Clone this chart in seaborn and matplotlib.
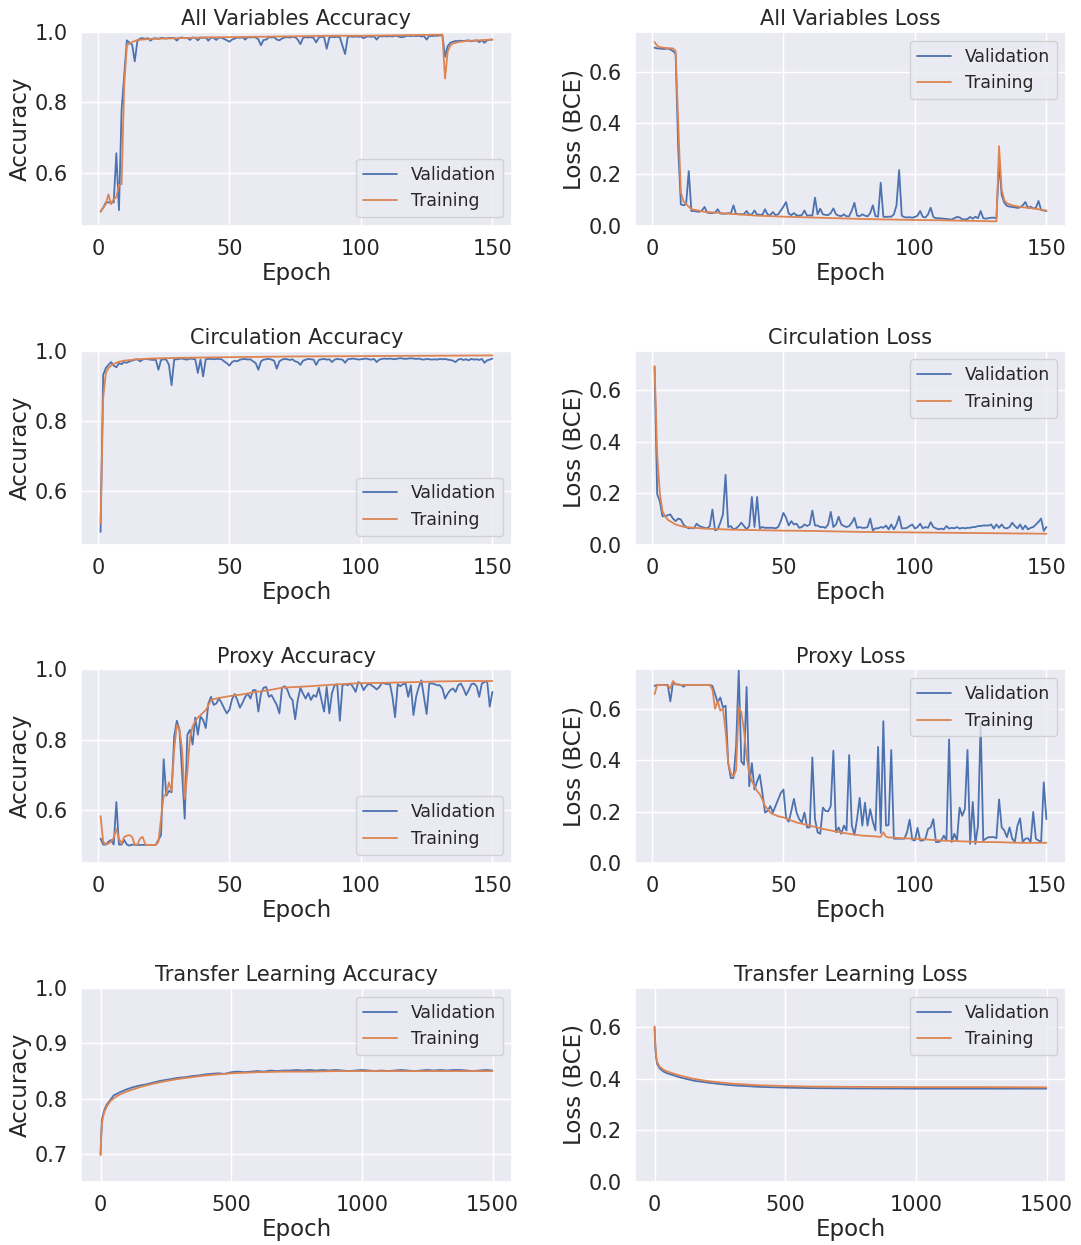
import numpy as np
import pandas as pd
import matplotlib
matplotlib.use("Agg")
import matplotlib.pyplot as plt
import seaborn as sns

# ---------------- data ----------------
EPOCHS = list(range(1, 151))

# All Variables
AV_ACC_VAL = [
    0.489, 0.500, 0.515, 0.515, 0.515, 0.515, 0.655, 0.493, 0.779, 0.880,
    0.977, 0.970, 0.965, 0.917, 0.975, 0.982, 0.983, 0.981, 0.983, 0.976,
    0.982, 0.983, 0.981, 0.984, 0.983, 0.982, 0.984, 0.983, 0.984, 0.976,
    0.984, 0.985, 0.983, 0.984, 0.978, 0.985, 0.984, 0.977, 0.985, 0.984,
    0.985, 0.976, 0.985, 0.984, 0.978, 0.985, 0.984, 0.981, 0.977, 0.973,
    0.979, 0.982, 0.985, 0.984, 0.986, 0.979, 0.986, 0.985, 0.986, 0.985,
    0.980, 0.963, 0.978, 0.979, 0.986, 0.985, 0.986, 0.979, 0.977, 0.982,
    0.985, 0.986, 0.985, 0.987, 0.986, 0.979, 0.966, 0.984, 0.986, 0.985,
    0.986, 0.984, 0.971, 0.985, 0.987, 0.986, 0.953, 0.985, 0.987, 0.986,
    0.987, 0.986, 0.961, 0.938, 0.987, 0.988, 0.987, 0.988, 0.987, 0.988,
    0.983, 0.987, 0.988, 0.987, 0.988, 0.979, 0.989, 0.988, 0.989, 0.988,
    0.989, 0.988, 0.990, 0.989, 0.986, 0.986, 0.989, 0.990, 0.989, 0.990,
    0.989, 0.990, 0.988, 0.989, 0.979, 0.990, 0.989, 0.990, 0.990, 0.991,
    0.991, 0.930, 0.960, 0.970, 0.973, 0.975, 0.975, 0.976, 0.975, 0.976,
    0.977, 0.974, 0.976, 0.977, 0.972, 0.977, 0.970, 0.977, 0.979, 0.979,
]
AV_ACC_TR_EP = [1, 2, 3, 4, 5, 6, 7, 8, 9, 10, 11, 12, 13, 15, 20, 30, 40, 50, 60, 70, 80,
                90, 100, 110, 120, 130, 131, 132, 133, 134, 135, 137, 140, 145, 150]
AV_ACC_TR = [0.489, 0.500, 0.510, 0.538, 0.510, 0.525, 0.530, 0.565, 0.567, 0.850,
             0.962, 0.968, 0.972, 0.978, 0.981, 0.983, 0.985, 0.986, 0.987, 0.988,
             0.989, 0.990, 0.990, 0.991, 0.992, 0.993, 0.993, 0.868, 0.945, 0.962,
             0.968, 0.972, 0.975, 0.977, 0.979]

AV_LOSS_VAL = [
    0.693, 0.690, 0.690, 0.688, 0.688, 0.690, 0.686, 0.680, 0.670, 0.300,
    0.084, 0.080, 0.085, 0.213, 0.058, 0.058, 0.056, 0.055, 0.060, 0.074,
    0.052, 0.050, 0.050, 0.052, 0.065, 0.048, 0.048, 0.047, 0.050, 0.048,
    0.080, 0.046, 0.046, 0.045, 0.046, 0.058, 0.044, 0.045, 0.060, 0.044,
    0.044, 0.043, 0.065, 0.044, 0.043, 0.054, 0.042, 0.045, 0.060, 0.075,
    0.093, 0.048, 0.042, 0.050, 0.041, 0.040, 0.042, 0.060, 0.040, 0.041,
    0.040, 0.110, 0.045, 0.067, 0.045, 0.043, 0.042, 0.050, 0.068, 0.045,
    0.040, 0.038, 0.045, 0.037, 0.038, 0.060, 0.090, 0.040, 0.038, 0.045,
    0.040, 0.037, 0.050, 0.080, 0.038, 0.036, 0.168, 0.036, 0.035, 0.036,
    0.036, 0.045, 0.080, 0.217, 0.040, 0.034, 0.033, 0.034, 0.032, 0.035,
    0.040, 0.058, 0.035, 0.033, 0.045, 0.071, 0.035, 0.030, 0.030, 0.029,
    0.028, 0.027, 0.026, 0.025, 0.030, 0.035, 0.033, 0.026, 0.025, 0.027,
    0.035, 0.028, 0.036, 0.030, 0.058, 0.030, 0.028, 0.030, 0.032, 0.032,
    0.030, 0.250, 0.120, 0.090, 0.078, 0.075, 0.074, 0.072, 0.070, 0.072,
    0.080, 0.093, 0.070, 0.075, 0.068, 0.070, 0.097, 0.062, 0.060, 0.058,
]
AV_LOSS_TR_EP = [1, 2, 3, 5, 8, 9, 10, 11, 12, 13, 15, 20, 30, 40, 50, 60, 70, 80, 90, 100,
                 110, 120, 130, 131, 132, 133, 134, 135, 137, 140, 145, 150]
AV_LOSS_TR = [0.715, 0.700, 0.695, 0.692, 0.690, 0.680, 0.400, 0.130, 0.095, 0.085,
              0.065, 0.055, 0.047, 0.040, 0.036, 0.033, 0.030, 0.027, 0.025, 0.023,
              0.022, 0.020, 0.018, 0.018, 0.310, 0.140, 0.100, 0.088, 0.080, 0.074,
              0.068, 0.060]

# Circulation
CI_ACC_VAL = [
    0.484, 0.932, 0.951, 0.960, 0.968, 0.958, 0.953, 0.965, 0.962, 0.968,
    0.966, 0.970, 0.972, 0.975, 0.976, 0.970, 0.975, 0.977, 0.976, 0.975,
    0.974, 0.975, 0.946, 0.974, 0.976, 0.975, 0.960, 0.902, 0.975, 0.976,
    0.977, 0.978, 0.976, 0.975, 0.978, 0.977, 0.976, 0.937, 0.975, 0.927,
    0.976, 0.977, 0.977, 0.976, 0.977, 0.977, 0.976, 0.970, 0.965, 0.958,
    0.968, 0.972, 0.970, 0.975, 0.976, 0.977, 0.975, 0.976, 0.970, 0.965,
    0.946, 0.970, 0.975, 0.976, 0.977, 0.975, 0.972, 0.949, 0.970, 0.975,
    0.977, 0.976, 0.974, 0.976, 0.970, 0.968, 0.960, 0.972, 0.975, 0.977,
    0.976, 0.975, 0.960, 0.974, 0.976, 0.977, 0.975, 0.976, 0.968, 0.975,
    0.977, 0.976, 0.975, 0.966, 0.976, 0.977, 0.978, 0.977, 0.975, 0.976,
    0.977, 0.978, 0.976, 0.975, 0.977, 0.968, 0.975, 0.977, 0.978, 0.977,
    0.978, 0.977, 0.976, 0.978, 0.979, 0.978, 0.977, 0.978, 0.979, 0.978,
    0.977, 0.978, 0.976, 0.975, 0.977, 0.976, 0.975, 0.976, 0.975, 0.977,
    0.976, 0.977, 0.975, 0.974, 0.972, 0.968, 0.975, 0.977, 0.974, 0.976,
    0.973, 0.977, 0.975, 0.976, 0.974, 0.977, 0.966, 0.973, 0.975, 0.978,
]
CI_ACC_TR_EP = [1, 2, 3, 4, 5, 6, 7, 8, 10, 15, 20, 30, 50, 75, 100, 125, 150]
CI_ACC_TR = [0.508, 0.866, 0.937, 0.951, 0.958, 0.962, 0.966, 0.969, 0.972, 0.976,
             0.978, 0.980, 0.982, 0.984, 0.985, 0.986, 0.987]

CI_LOSS_VAL = [
    0.690, 0.196, 0.168, 0.110, 0.110, 0.114, 0.117, 0.101, 0.091, 0.101,
    0.097, 0.078, 0.068, 0.063, 0.065, 0.063, 0.081, 0.072, 0.068, 0.065,
    0.063, 0.072, 0.136, 0.055, 0.059, 0.085, 0.117, 0.271, 0.068, 0.072,
    0.059, 0.063, 0.072, 0.085, 0.072, 0.059, 0.072, 0.185, 0.068, 0.185,
    0.063, 0.068, 0.065, 0.065, 0.065, 0.065, 0.063, 0.068, 0.091, 0.123,
    0.104, 0.074, 0.091, 0.078, 0.081, 0.065, 0.068, 0.078, 0.072, 0.078,
    0.132, 0.074, 0.074, 0.068, 0.068, 0.065, 0.078, 0.127, 0.068, 0.078,
    0.108, 0.078, 0.072, 0.068, 0.072, 0.085, 0.104, 0.065, 0.068, 0.065,
    0.065, 0.068, 0.101, 0.055, 0.063, 0.063, 0.068, 0.065, 0.074, 0.059,
    0.078, 0.059, 0.078, 0.110, 0.063, 0.063, 0.065, 0.072, 0.078, 0.062,
    0.068, 0.081, 0.063, 0.068, 0.065, 0.087, 0.068, 0.063, 0.059, 0.062,
    0.059, 0.072, 0.062, 0.065, 0.063, 0.068, 0.062, 0.065, 0.063, 0.065,
    0.065, 0.068, 0.068, 0.072, 0.072, 0.074, 0.074, 0.074, 0.078, 0.062,
    0.078, 0.065, 0.078, 0.065, 0.063, 0.068, 0.085, 0.072, 0.063, 0.078,
    0.059, 0.074, 0.059, 0.065, 0.068, 0.078, 0.088, 0.101, 0.053, 0.068,
]
CI_LOSS_TR_EP = [1, 2, 3, 4, 5, 6, 7, 8, 9, 10, 12, 15, 20, 30, 40, 50, 60, 70, 80, 90,
                 100, 110, 120, 130, 140, 150]
CI_LOSS_TR = [0.694, 0.350, 0.200, 0.130, 0.110, 0.097, 0.090, 0.084, 0.078, 0.075,
              0.069, 0.066, 0.062, 0.058, 0.056, 0.054, 0.053, 0.051, 0.049, 0.048,
              0.047, 0.046, 0.045, 0.044, 0.043, 0.042]

# Proxy
PR_ACC_VAL = [
    0.518, 0.501, 0.501, 0.509, 0.514, 0.501, 0.622, 0.501, 0.501, 0.514,
    0.501, 0.498, 0.501, 0.500, 0.500, 0.500, 0.500, 0.500, 0.500, 0.500,
    0.500, 0.500, 0.514, 0.528, 0.744, 0.640, 0.654, 0.650, 0.809, 0.854,
    0.828, 0.706, 0.575, 0.814, 0.828, 0.786, 0.863, 0.814, 0.866, 0.856,
    0.833, 0.903, 0.922, 0.899, 0.903, 0.917, 0.905, 0.889, 0.875, 0.885,
    0.915, 0.930, 0.913, 0.891, 0.905, 0.922, 0.931, 0.917, 0.941, 0.941,
    0.880, 0.931, 0.948, 0.950, 0.922, 0.927, 0.913, 0.899, 0.875, 0.948,
    0.952, 0.943, 0.922, 0.913, 0.858, 0.913, 0.948, 0.931, 0.917, 0.933,
    0.913, 0.927, 0.922, 0.948, 0.913, 0.880, 0.950, 0.875, 0.933, 0.955,
    0.958, 0.854, 0.955, 0.958, 0.955, 0.960, 0.950, 0.936, 0.964, 0.960,
    0.941, 0.952, 0.960, 0.955, 0.950, 0.943, 0.950, 0.962, 0.960, 0.958,
    0.960, 0.922, 0.864, 0.958, 0.952, 0.958, 0.960, 0.922, 0.955, 0.870,
    0.922, 0.950, 0.969, 0.922, 0.873, 0.960, 0.960, 0.958, 0.955, 0.955,
    0.946, 0.917, 0.931, 0.941, 0.946, 0.936, 0.955, 0.960, 0.946, 0.927,
    0.941, 0.958, 0.960, 0.952, 0.922, 0.960, 0.964, 0.967, 0.894, 0.936,
]
PR_ACC_TR_EP = list(range(1, 48)) + [50, 55, 60, 65, 70, 80, 90, 100, 110, 120, 130, 140, 150]
PR_ACC_TR = [0.582, 0.509, 0.501, 0.504, 0.509, 0.520, 0.546, 0.518, 0.504, 0.523,
             0.526, 0.528, 0.523, 0.501, 0.501, 0.518, 0.523, 0.501, 0.500, 0.500,
             0.500, 0.500, 0.509, 0.575, 0.640, 0.645, 0.678, 0.654, 0.772, 0.842,
             0.828, 0.772, 0.631, 0.706, 0.805, 0.838, 0.852, 0.863, 0.870, 0.877,
             0.884, 0.898, 0.913, 0.916, 0.917, 0.919, 0.920,
             0.924, 0.929, 0.936, 0.941, 0.948, 0.952, 0.957, 0.961, 0.962, 0.964,
             0.966, 0.967, 0.967]

PR_LOSS_VAL = [
    0.689, 0.693, 0.693, 0.693, 0.693, 0.693, 0.629, 0.702, 0.695, 0.695,
    0.693, 0.686, 0.693, 0.693, 0.693, 0.693, 0.693, 0.693, 0.693, 0.693,
    0.693, 0.693, 0.689, 0.657, 0.625, 0.644, 0.606, 0.612, 0.389, 0.331,
    0.331, 0.452, 0.749, 0.395, 0.382, 0.685, 0.299, 0.389, 0.286, 0.318,
    0.344, 0.273, 0.197, 0.203, 0.222, 0.197, 0.222, 0.248, 0.273, 0.286,
    0.178, 0.161, 0.203, 0.250, 0.197, 0.171, 0.158, 0.197, 0.139, 0.139,
    0.411, 0.171, 0.120, 0.114, 0.216, 0.203, 0.201, 0.222, 0.437, 0.120,
    0.139, 0.114, 0.146, 0.127, 0.420, 0.146, 0.110, 0.171, 0.254, 0.146,
    0.235, 0.146, 0.210, 0.161, 0.127, 0.452, 0.118, 0.552, 0.146, 0.148,
    0.440, 0.095, 0.095, 0.095, 0.095, 0.095, 0.120, 0.169, 0.091, 0.088,
    0.137, 0.088, 0.088, 0.095, 0.133, 0.139, 0.171, 0.082, 0.082, 0.088,
    0.107, 0.088, 0.481, 0.082, 0.114, 0.088, 0.216, 0.184, 0.210, 0.440,
    0.075, 0.238, 0.075, 0.146, 0.544, 0.088, 0.095, 0.101, 0.101, 0.101,
    0.097, 0.248, 0.139, 0.127, 0.101, 0.139, 0.095, 0.082, 0.146, 0.174,
    0.082, 0.095, 0.097, 0.082, 0.199, 0.095, 0.088, 0.082, 0.314, 0.171,
]
PR_LOSS_TR_EP = [1, 2, 3, 4, 5, 6, 7, 8, 9, 10, 22, 23, 24, 25, 26, 27, 28, 29, 30, 31,
                 32, 33, 34, 35, 36, 37, 38, 39, 40, 41, 42, 43, 44, 45, 46, 47, 48, 50,
                 55, 60, 65, 70, 75, 80, 85, 87, 88, 89, 90, 95, 100, 110, 120, 125, 130,
                 140, 150]
PR_LOSS_TR = [0.657, 0.693, 0.693, 0.693, 0.693, 0.690, 0.680, 0.708, 0.697, 0.693,
              0.693, 0.676, 0.600, 0.630, 0.593, 0.600, 0.516, 0.389, 0.350, 0.337,
              0.362, 0.606, 0.587, 0.516, 0.414, 0.350, 0.318, 0.299, 0.280, 0.268,
              0.248, 0.222, 0.210, 0.197, 0.190, 0.187, 0.182, 0.178,
              0.158, 0.146, 0.133, 0.123, 0.114, 0.107, 0.104, 0.102, 0.120, 0.103,
              0.100, 0.097, 0.095, 0.088, 0.084, 0.082, 0.082, 0.079, 0.079]

# Transfer Learning (1500 epochs)
TL_ACC_VAL_EP = [0, 5, 10, 15, 20] + list(range(25, 1500, 25)) + [1499]
TL_ACC_VAL = [0.700, 0.762, 0.772, 0.780, 0.786,
              0.790, 0.806, 0.812, 0.817, 0.821, 0.824, 0.826, 0.829, 0.832, 0.834,
              0.836, 0.838, 0.839, 0.841, 0.842, 0.844, 0.845, 0.846, 0.845, 0.848,
              0.849, 0.848, 0.849, 0.850, 0.849, 0.851, 0.850, 0.851, 0.851, 0.852,
              0.851, 0.852, 0.851, 0.852, 0.851, 0.852, 0.851, 0.850, 0.851, 0.852,
              0.851, 0.850, 0.851, 0.850, 0.851, 0.852, 0.851, 0.850, 0.851, 0.852,
              0.851, 0.852, 0.851, 0.852, 0.852, 0.851, 0.850, 0.851, 0.852, 0.851]
TL_ACC_TR_EP = [0, 3, 6, 10, 15, 25, 40, 60, 80, 100, 150, 200, 250, 300, 350, 400, 450,
                500, 600, 700, 800, 900, 1000, 1100, 1200, 1300, 1400, 1499]
TL_ACC_TR = [0.698, 0.740, 0.758, 0.768, 0.777, 0.787, 0.797, 0.804, 0.809, 0.813,
             0.821, 0.827, 0.832, 0.836, 0.839, 0.842, 0.844, 0.846, 0.848, 0.849,
             0.849, 0.850, 0.850, 0.850, 0.850, 0.850, 0.850, 0.850]

TL_LOSS_EP = [0, 3, 6, 10, 20, 35, 50, 75, 100, 150, 200, 250, 300, 400, 500, 600, 750,
              1000, 1250, 1499]
TL_LOSS_VAL = [0.600, 0.522, 0.482, 0.458, 0.440, 0.428, 0.421, 0.413, 0.405, 0.393,
               0.386, 0.380, 0.375, 0.369, 0.366, 0.364, 0.363, 0.362, 0.362, 0.362]
TL_LOSS_TR = [0.604, 0.530, 0.490, 0.465, 0.447, 0.435, 0.428, 0.420, 0.412, 0.400,
              0.392, 0.386, 0.381, 0.375, 0.372, 0.370, 0.369, 0.368, 0.368, 0.367]

# ---------------- style ----------------
sns.set_theme(style="darkgrid")
plt.rcParams['font.family'] = ['DejaVu Sans']
pal = sns.color_palette("deep")
C_VAL, C_TR = pal[0], pal[1]

fig, axes = plt.subplots(4, 2, figsize=(10.81, 12.45), dpi=100)
fig.subplots_adjust(left=0.0749, right=0.9861, top=0.9741, bottom=0.0508,
                    wspace=0.2854, hspace=0.645)

panels = [
    ("All Variables Accuracy", "Accuracy", EPOCHS, AV_ACC_VAL, AV_ACC_TR_EP, AV_ACC_TR, (0.448, 1.0), [0.6, 0.8, 1.0], "lower right", [0, 50, 100, 150]),
    ("All Variables Loss", "Loss (BCE)", EPOCHS, AV_LOSS_VAL, AV_LOSS_TR_EP, AV_LOSS_TR, (0.0, 0.753), [0.0, 0.2, 0.4, 0.6], "upper right", [0, 50, 100, 150]),
    ("Circulation Accuracy", "Accuracy", EPOCHS, CI_ACC_VAL, CI_ACC_TR_EP, CI_ACC_TR, (0.448, 1.0), [0.6, 0.8, 1.0], "lower right", [0, 50, 100, 150]),
    ("Circulation Loss", "Loss (BCE)", EPOCHS, CI_LOSS_VAL, CI_LOSS_TR_EP, CI_LOSS_TR, (0.0, 0.753), [0.0, 0.2, 0.4, 0.6], "upper right", [0, 50, 100, 150]),
    ("Proxy Accuracy", "Accuracy", EPOCHS, PR_ACC_VAL, PR_ACC_TR_EP, PR_ACC_TR, (0.448, 1.0), [0.6, 0.8, 1.0], "lower right", [0, 50, 100, 150]),
    ("Proxy Loss", "Loss (BCE)", EPOCHS, PR_LOSS_VAL, PR_LOSS_TR_EP, PR_LOSS_TR, (0.0, 0.753), [0.0, 0.2, 0.4, 0.6], "upper right", [0, 50, 100, 150]),
    ("Transfer Learning Accuracy", "Accuracy", TL_ACC_VAL_EP, TL_ACC_VAL, TL_ACC_TR_EP, TL_ACC_TR, (0.65, 1.0), [0.7, 0.8, 0.9, 1.0], "upper right", [0, 500, 1000, 1500]),
    ("Transfer Learning Loss", "Loss (BCE)", TL_LOSS_EP, TL_LOSS_VAL, TL_LOSS_EP, TL_LOSS_TR, (0.0, 0.753), [0.0, 0.2, 0.4, 0.6], "upper right", [0, 500, 1000, 1500]),
]

for ax, (title, ylab, xv, yv, xt, yt, ylim, yticks, loc, xticks) in zip(axes.flat, panels):
    sns.lineplot(x=xv, y=yv, ax=ax, color=C_VAL, label="Validation", linewidth=1.3)
    sns.lineplot(x=xt, y=yt, ax=ax, color=C_TR, label="Training", linewidth=1.3)
    ax.set_ylim(*ylim)
    ax.set_yticks(yticks)
    ax.set_xticks(xticks)
    ax.set_title(title, fontsize=15, pad=5)
    ax.set_xlabel("Epoch", fontsize=16.5, labelpad=2)
    ax.set_ylabel(ylab, fontsize=16.5, labelpad=2)
    ax.tick_params(labelsize=15)
    ax.legend(loc=loc, fontsize=12.4)

# x-limits as autoscaled from full epoch range
for ax in axes[:3].flat:
    ax.set_xlim(1 - 7.45, 150 + 7.45)
for ax in axes[3]:
    ax.set_xlim(0 - 74.95, 1499 + 74.95)

fig.savefig("out.png", dpi=100)
